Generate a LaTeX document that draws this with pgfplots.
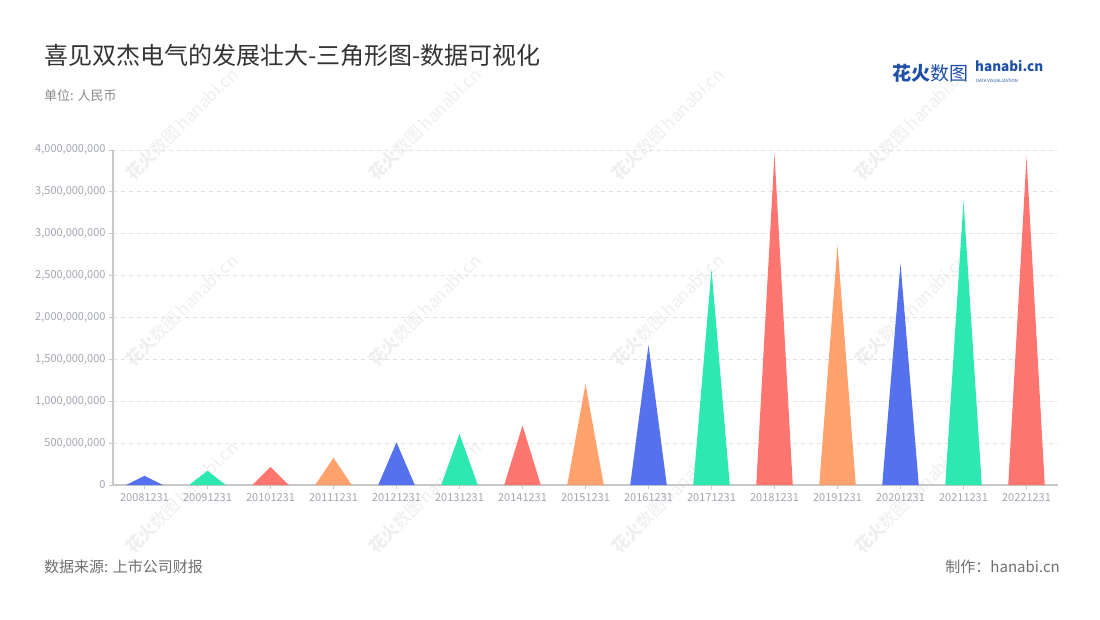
\documentclass[border=0pt]{standalone}
\usepackage{fontspec}
\setmainfont{Noto Sans CJK SC}
\usepackage{pgfplots}
\pgfplotsset{compat=1.18}
\definecolor{cb}{HTML}{5671EE}
\definecolor{cg}{HTML}{2DE8B0}
\definecolor{cr}{HTML}{FF7671}
\definecolor{co}{HTML}{FFA26E}
\definecolor{tickc}{HTML}{A2A6B0}
\definecolor{gridc}{HTML}{E0E0E0}
\definecolor{axc}{HTML}{C8C8C8}
\definecolor{titlec}{HTML}{333333}
\definecolor{subc}{HTML}{8A8A8A}
\definecolor{footc}{HTML}{707070}
\definecolor{logoc}{HTML}{1F50A8}
\definecolor{wmc}{HTML}{EFEFEF}
\begin{document}
\begin{tikzpicture}[x=1pt,y=1pt]
\path[fill=white] (0pt,0pt) rectangle (1100pt,-620pt);
% watermarks
\foreach \cx in {182,425,668,911}{
  \foreach \cy in {-124,-310,-497}{
    \node[rotate=45, text=wmc, font=\fontsize{17}{17}\selectfont, inner sep=0pt] at (\cx pt,\cy pt) {{\bfseries 花火}数图\,hanabi.cn};
  }
}
\node[anchor=west, text=titlec, font=\fontsize{24}{24}\selectfont, inner sep=0pt] at (44pt,-55pt) {喜见双杰电气的发展壮大-三角形图-数据可视化};
\node[anchor=west, text=subc, font=\fontsize{13}{13}\selectfont, inner sep=0pt] at (44pt,-96pt) {单位: 人民币};
\node[anchor=west, text=footc, font=\fontsize{15}{15}\selectfont, inner sep=0pt] at (44pt,-567pt) {数据来源: 上市公司财报};
\node[anchor=east, text=footc, font=\fontsize{15}{15}\selectfont, inner sep=0pt] at (1060pt,-567pt) {制作：hanabi.cn};
% logo
\node[anchor=west, text=logoc, font=\fontsize{19}{19}\selectfont, inner sep=0pt] at (892pt,-73pt) {{\bfseries 花火}数图};
\node[anchor=north west, text=logoc, align=left, inner sep=0pt] at (975pt,-60pt) {{\bfseries\fontsize{13.5}{11}\selectfont hanabi.cn}\\[-1pt]{\fontsize{4.3}{4.3}\selectfont\ DATA VISUALIZATION}};
\begin{axis}[
  at={(113pt,-485pt)}, anchor=south west,
  scale only axis, width=945pt, height=335pt,
  xmin=-0.5, xmax=14.5, ymin=0, ymax=4e9,
  axis x line*=bottom, axis y line*=left,
  axis line style={draw=axc, line width=1.2pt},
  x axis line style={-}, y axis line style={-},
  ymajorgrids, grid style={draw=gridc, dash pattern=on 4pt off 4pt, line width=0.8pt},
  xtick={0,1,2,3,4,5,6,7,8,9,10,11,12,13,14},
  xticklabels={20081231,20091231,20101231,20111231,20121231,20131231,20141231,20151231,20161231,20171231,20181231,20191231,20201231,20211231,20221231},
  ytick={0,500000000,1000000000,1500000000,2000000000,2500000000,3000000000,3500000000,4000000000},
  yticklabels={0,{500,000,000},{1,000,000,000},{1,500,000,000},{2,000,000,000},{2,500,000,000},{3,000,000,000},{3,500,000,000},{4,000,000,000}},
  scaled y ticks=false,
  tick align=outside, major tick length=4pt,
  tick style={draw=axc, line width=0.8pt},
  tick label style={text=tickc, font=\fontsize{11}{11}\selectfont},
  xticklabel style={yshift=-1pt},
  clip=false,
]
\addplot[fill=cb, draw=none] coordinates {(-0.29,0) (0,110000000) (0.29,0)} \closedcycle;
\addplot[fill=cg, draw=none] coordinates {(0.71,0) (1,170000000) (1.29,0)} \closedcycle;
\addplot[fill=cr, draw=none] coordinates {(1.71,0) (2,215000000) (2.29,0)} \closedcycle;
\addplot[fill=co, draw=none] coordinates {(2.71,0) (3,325000000) (3.29,0)} \closedcycle;
\addplot[fill=cb, draw=none] coordinates {(3.71,0) (4,510000000) (4.29,0)} \closedcycle;
\addplot[fill=cg, draw=none] coordinates {(4.71,0) (5,610000000) (5.29,0)} \closedcycle;
\addplot[fill=cr, draw=none] coordinates {(5.71,0) (6,710000000) (6.29,0)} \closedcycle;
\addplot[fill=co, draw=none] coordinates {(6.71,0) (7,1205000000) (7.29,0)} \closedcycle;
\addplot[fill=cb, draw=none] coordinates {(7.71,0) (8,1670000000) (8.29,0)} \closedcycle;
\addplot[fill=cg, draw=none] coordinates {(8.71,0) (9,2575000000) (9.29,0)} \closedcycle;
\addplot[fill=cr, draw=none] coordinates {(9.71,0) (10,3960000000) (10.29,0)} \closedcycle;
\addplot[fill=co, draw=none] coordinates {(10.71,0) (11,2865000000) (11.29,0)} \closedcycle;
\addplot[fill=cb, draw=none] coordinates {(11.71,0) (12,2645000000) (12.29,0)} \closedcycle;
\addplot[fill=cg, draw=none] coordinates {(12.71,0) (13,3395000000) (13.29,0)} \closedcycle;
\addplot[fill=cr, draw=none] coordinates {(13.71,0) (14,3920000000) (14.29,0)} \closedcycle;
\end{axis}
\end{tikzpicture}
\end{document}
